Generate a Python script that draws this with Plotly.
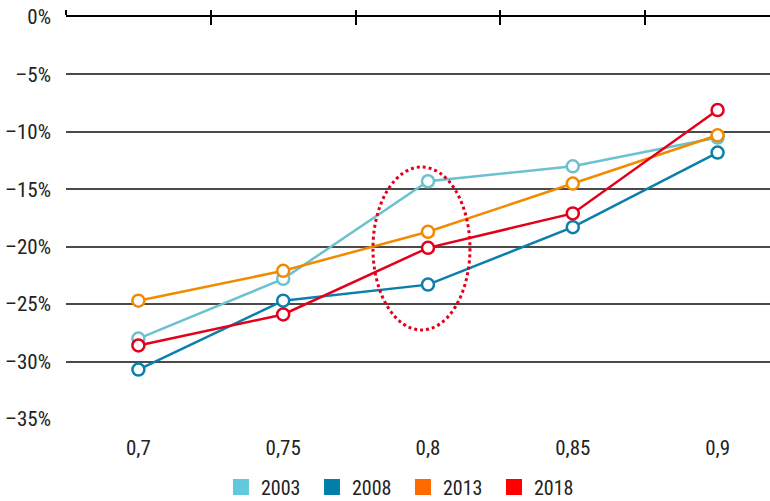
'''
    Line chart of the four survey years, with a dotted ellipse around 0,8.
'''

import plotly.graph_objects as go

# category positions on the horizontal axis
x_vals = [0.7, 0.75, 0.8, 0.85, 0.9]
x_labels = ['0,7', '0,75', '0,8', '0,85', '0,9']
x_bounds = [0.675, 0.725, 0.775, 0.825, 0.875]

years = ['2003', '2008', '2013', '2018']
vals_2003 = [-28.0, -22.8, -14.3, -13.0, -10.5]
vals_2008 = [-30.7, -24.7, -23.3, -18.3, -11.8]
vals_2013 = [-24.7, -22.1, -18.7, -14.5, -10.3]
vals_2018 = [-28.6, -25.9, -20.1, -17.1, -8.1]

y_ticks = [0, -5, -10, -15, -20, -25, -30, -35]
y_labels = ['0%', '–5%', '–10%', '–15%', '–20%', '–25%', '–30%', '–35%']

line_colors = ['#6CC1D1', '#0A7FAC', '#F28A00', '#E2001A']
legend_colors = ['#62C9DD', '#0080A9', '#FF6A00', '#FF0000']

FONT = 'Liberation Sans Narrow, Roboto Condensed, Arial Narrow, Roboto'

fig = go.Figure()

for year, vals, col in zip(years, [vals_2003, vals_2008, vals_2013, vals_2018],
                           line_colors):
    fig.add_trace(go.Scatter(
        x=x_vals, y=vals, mode='lines+markers', showlegend=False,
        line=dict(color=col, width=2.5),
        marker=dict(symbol='circle', size=12, color='white',
                    line=dict(color=col, width=2.5)),
        name=year))

# legend entries are plain squares
for year, col in zip(years, legend_colors):
    fig.add_trace(go.Scatter(
        x=[None], y=[None], mode='markers', name=year,
        marker=dict(symbol='square', size=16, color=col)))

# dotted ellipse around the 0,8 points
fig.add_shape(type='circle', xref='x', yref='y',
              x0=0.781, x1=0.8145, y0=-27.25, y1=-13.06,
              line=dict(color='#E2001A', width=3, dash='dot'))

x_range = [0.675, 0.9181]

fig.update_layout(
    width=770, height=501,
    margin=dict(l=66, r=0, t=17, b=82),
    plot_bgcolor='white', paper_bgcolor='white',
    font=dict(family=FONT, size=21, color='#222222'),
    showlegend=True,
    legend=dict(orientation='h', xref='container', yref='container',
                x=0.287, xanchor='left', y=0.028, yanchor='middle',
                font=dict(size=20), itemwidth=30, entrywidth=46,
                bgcolor='rgba(0,0,0,0)'),
    xaxis=dict(range=x_range, side='top', showline=True, linecolor='black',
               linewidth=1.5, tickmode='array', tickvals=x_bounds,
               showticklabels=False, ticks='outside', ticklen=5,
               tickwidth=1.5, tickcolor='black', showgrid=False,
               zeroline=False, automargin=False),
    xaxis2=dict(range=x_range, side='top', overlaying='x', showline=False,
                tickmode='array', tickvals=x_bounds, showticklabels=False,
                ticks='inside', ticklen=8, tickwidth=1.5, tickcolor='black',
                showgrid=False, zeroline=False, automargin=False),
    xaxis3=dict(range=x_range, side='bottom', overlaying='x', showline=False,
                tickmode='array', tickvals=x_vals, ticktext=x_labels,
                ticks='', showgrid=False, zeroline=False, anchor='y',
                ticklabelstandoff=14, automargin=False),
    yaxis=dict(range=[-35, 0], tickmode='array', tickvals=y_ticks,
               ticktext=y_labels, showgrid=True, gridcolor='#4a4a4a',
               gridwidth=1.5, zeroline=False, showline=False, ticks='',
               ticklabelstandoff=14, automargin=False),
)

# attach dummy traces so the extra axes are drawn
fig.add_trace(go.Scatter(x=[None], y=[None], xaxis='x2', showlegend=False,
                         hoverinfo='skip'))
fig.add_trace(go.Scatter(x=[None], y=[None], xaxis='x3', showlegend=False,
                         hoverinfo='skip'))

# drop the default page margin so the figure sits at the top-left corner
fig.write_html('out.html', config={'displayModeBar': False},
               post_script="document.body.style.margin='0';")
